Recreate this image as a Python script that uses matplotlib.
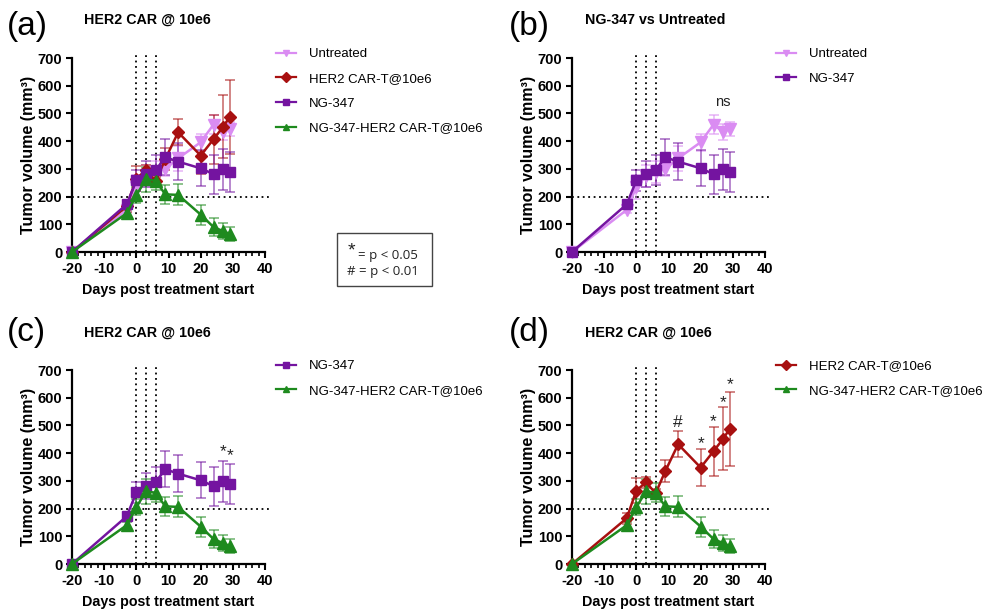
import matplotlib
matplotlib.use("Agg")
import matplotlib.pyplot as plt
from matplotlib.patches import Rectangle
from matplotlib.lines import Line2D
from matplotlib.ticker import MultipleLocator

plt.rcParams['font.family'] = ['Liberation Sans', 'DejaVu Sans']
plt.rcParams['axes.unicode_minus'] = False

# ---------------- data ----------------
days = [-20, -3, 0, 3, 6, 9, 13, 20, 24, 27, 29]

untreated_mean = [0, 152, 235, 275, 288, 300, 338, 396, 460, 433, 445]
untreated_sem = [0, 12, 42, 40, 40, 25, 45, 30, 35, 30, 25]

ng347_mean = [0, 172, 258, 282, 295, 342, 326, 302, 281, 298, 290]
ng347_sem = [0, 10, 38, 48, 55, 65, 67, 65, 70, 75, 72]

car_mean = [0, 165, 265, 295, 255, 335, 432, 348, 407, 452, 487]
car_sem = [0, 20, 45, 20, 15, 40, 47, 68, 88, 114, 134]

combo_mean = [0, 140, 205, 262, 257, 208, 206, 135, 90, 75, 65]
combo_sem = [0, 12, 28, 45, 35, 35, 38, 36, 32, 28, 25]

dose_days = [0, 3, 6]
threshold = 200

series = {
    'Untreated': (untreated_mean, untreated_sem, '#DA8CF2', 'v'),
    'HER2 CAR-T@10e6': (car_mean, car_sem, '#A81010', 'D'),
    'NG-347': (ng347_mean, ng347_sem, '#7414A0', 's'),
    'NG-347-HER2 CAR-T@10e6': (combo_mean, combo_sem, '#1E8A1E', '^'),
}

panels = [
    ('(a)', 'HER2 CAR @ 10e6', ['Untreated', 'HER2 CAR-T@10e6', 'NG-347', 'NG-347-HER2 CAR-T@10e6']),
    ('(b)', 'NG-347 vs Untreated', ['Untreated', 'NG-347']),
    ('(c)', 'HER2 CAR @ 10e6', ['NG-347', 'NG-347-HER2 CAR-T@10e6']),
    ('(d)', 'HER2 CAR @ 10e6', ['HER2 CAR-T@10e6', 'NG-347-HER2 CAR-T@10e6']),
]
draw_order = ['Untreated', 'HER2 CAR-T@10e6', 'NG-347', 'NG-347-HER2 CAR-T@10e6']

# annotations: (panel index, text, day, y)
annotations = [
    (1, 'ns', 27, 540),
    (2, '*', 27, 405),
    (2, '*', 29, 390),
    (3, '#', 13, 512),
    (3, '*', 20, 436),
    (3, '*', 24, 515),
    (3, '*', 27, 584),
    (3, '*', 29, 646),
]

# ---------------- layout ----------------
W, H = 996, 614
fig = plt.figure(figsize=(W / 100, H / 100), dpi=100)


def fx(x):
    return x / W


def fy(y):
    return 1 - y / H


# (left px, top px, right px, bottom px)
ax_boxes = [(72, 58, 265, 252), (572, 58, 765, 252),
            (72, 370, 265, 564), (572, 370, 765, 564)]
label_pos = [(7, 27), (509, 27), (7, 333), (509, 333)]
title_pos = [(84, 20), (585, 20), (84, 333), (585, 333)]
legend_pos = [(276, 48), (776, 48), (276, 360), (776, 360)]

axes = []
for i, (lab, title, names) in enumerate(panels):
    l, t, r, b = ax_boxes[i]
    ax = fig.add_axes([fx(l), fy(b), fx(r) - fx(l), fy(t) - fy(b)])
    axes.append(ax)
    ax.set_xlim(-20, 40)
    ax.set_ylim(0, 700)
    for s in ['top', 'right']:
        ax.spines[s].set_visible(False)
    for s in ['left', 'bottom']:
        ax.spines[s].set_linewidth(1.6)
    ax.xaxis.set_major_locator(MultipleLocator(10))
    ax.xaxis.set_minor_locator(MultipleLocator(2))
    ax.yaxis.set_major_locator(MultipleLocator(100))
    ax.tick_params(axis='both', which='major', length=4.5, width=1.5,
                   labelsize=10.5, pad=2.5)
    ax.tick_params(axis='x', which='minor', length=3, width=1.2)
    for tl in ax.get_xticklabels() + ax.get_yticklabels():
        tl.set_fontweight('bold')
    ax.set_xlabel('Days post treatment start', fontsize=10.3, fontweight='bold', labelpad=5)
    ax.set_ylabel('Tumor volume (mm³)', fontsize=11.5, fontweight='bold', labelpad=1)

    # reference lines
    for d in dose_days:
        ax.axvline(d, ymin=0, ymax=1.015, color='black', lw=1.3,
                   ls=(0, (1, 2.0)), clip_on=False, zorder=1)
    ax.hlines(threshold, -20, 41.5, color='black', lw=1.3,
              ls=(0, (1, 2.0)), clip_on=False, zorder=1)

    for name in draw_order:
        if name not in names:
            continue
        mean, sem, col, mk = series[name]
        ax.errorbar(days, mean, yerr=sem, fmt='none', ecolor=col, alpha=0.55,
                    elinewidth=1.3, capsize=3.5, capthick=1.3, clip_on=False, zorder=2)
        ms = {'s': 7, 'D': 6.5, 'v': 8, '^': 8}[mk]
        ax.plot(days, mean, color=col, marker=mk, ms=ms, lw=1.8,
                clip_on=False, zorder=3, label=name)

    # legend
    leg_handles = []
    for n in names:
        mean, sem, col, mk = series[n]
        leg_handles.append(Line2D([], [], color=col, marker=mk, ms=5, lw=1.6))
    lx, ly = legend_pos[i]
    fig.legend(leg_handles, names, loc='upper left',
               bbox_to_anchor=(fx(lx), fy(ly)), bbox_transform=fig.transFigure,
               frameon=False, fontsize=9.5, handlelength=1.5, handletextpad=1.0,
               labelspacing=0.95, borderpad=0, borderaxespad=0)

    fig.text(fx(label_pos[i][0]), fy(label_pos[i][1]), lab, fontsize=24,
             ha='left', va='center')
    fig.text(fx(title_pos[i][0]), fy(title_pos[i][1]), title, fontsize=10.3,
             fontweight='bold', ha='left', va='center')

for pi, txt, d, y in annotations:
    axes[pi].text(d, y, txt, ha='center', va='center', fontsize=12.5 if txt != 'ns' else 10.5,
                  color='#222222', clip_on=False)

# significance key box
fig.add_artist(Rectangle((fx(337), fy(286)), fx(432) - fx(337), fy(233) - fy(286),
                         transform=fig.transFigure, fill=False, ec='#444444', lw=1.0))
fig.text(fx(351), fy(251), '*', fontsize=14, ha='center', va='center', color='#222222')
fig.text(fx(358), fy(255), '= p < 0.05', fontsize=9.5, ha='left', va='center',
         color='#222222', family=['Open Sans', 'DejaVu Sans'])
fig.text(fx(347), fy(272), '# = p < 0.01', fontsize=9.5, ha='left', va='center',
         color='#222222', family=['Open Sans', 'DejaVu Sans'])

fig.savefig('out.png', dpi=100)
